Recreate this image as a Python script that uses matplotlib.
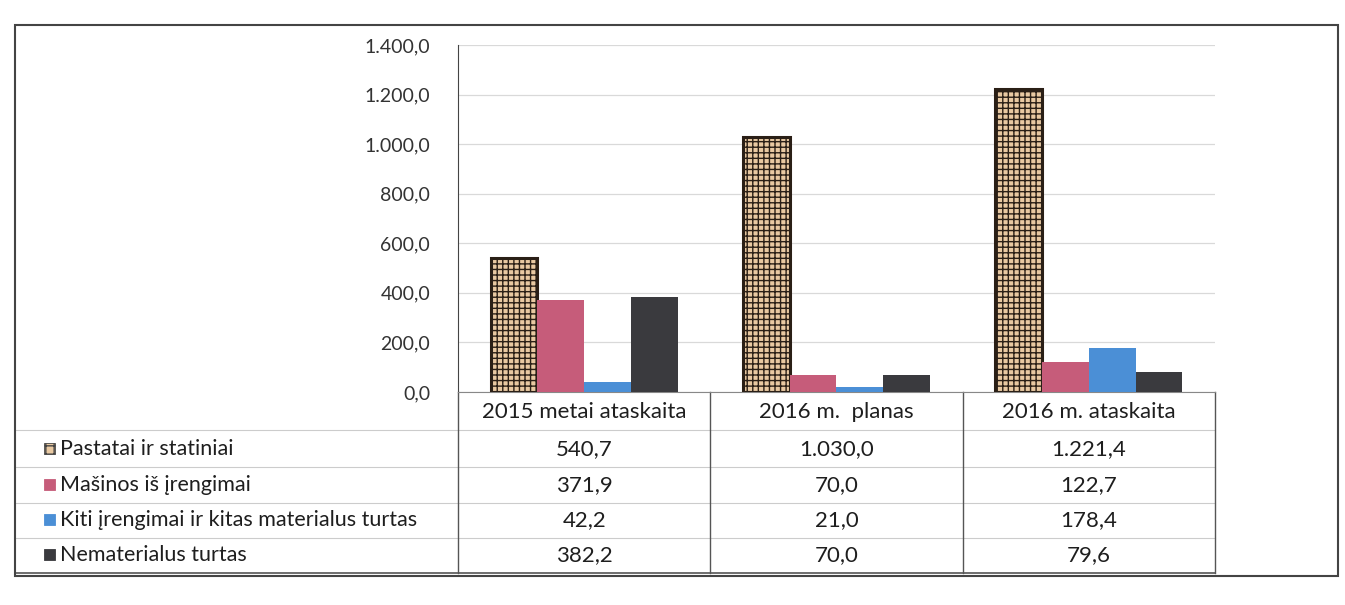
import numpy as np
import matplotlib
matplotlib.use("Agg")
import matplotlib.pyplot as plt
from matplotlib.patches import Rectangle

plt.rcParams['font.family'] = ['Lato', 'DejaVu Sans']

categories = ["2015 metai ataskaita", "2016 m.  planas", "2016 m. ataskaita"]
series_names = ["Pastatai ir statiniai", "Mašinos iš įrengimai",
                "Kiti įrengimai ir kitas materialus turtas", "Nematerialus turtas"]
pastatai = [540.7, 1030.0, 1221.4]
masinos = [371.9, 70.0, 122.7]
kiti = [42.2, 21.0, 178.4]
nematerialus = [382.2, 70.0, 79.6]
yticks = [0, 200, 400, 600, 800, 1000, 1200, 1400]

series = [pastatai, masinos, kiti, nematerialus]
colors = ["#e9c9a2", "#c65c7a", "#4b8fd6", "#3a3a3e"]


def lt_fmt(v):
    s = f"{v:,.1f}"
    return s.replace(",", " ").replace(".", ",").replace(" ", ".")


W, H = 1345, 605
fig = plt.figure(figsize=(W / 100, H / 100), dpi=100)
ax_left, ax_right, ax_top, ax_bot = 458, 1215, 45, 392
ax = fig.add_axes([ax_left / W, (H - ax_bot) / H,
                   (ax_right - ax_left) / W, (ax_bot - ax_top) / H])

x = np.arange(len(categories))
bw = 0.185
offsets = (np.arange(4) - 1.5) * bw
for i, vals in enumerate(series):
    if i == 0:
        ax.bar(x + offsets[i], vals, bw, color=colors[i], edgecolor="#2a1f16",
               hatch="+++", linewidth=2.2, zorder=3)
    else:
        ax.bar(x + offsets[i], vals, bw, color=colors[i], linewidth=0, zorder=3)

ax.set_xlim(-0.5, len(categories) - 0.5)
ax.set_ylim(0, 1400)
ax.set_yticks(yticks)
ax.set_yticklabels([lt_fmt(t) for t in yticks], fontsize=14, color="#333333")
ax.set_xticks([])
ax.tick_params(axis="y", length=0, pad=20)
ax.grid(axis="y", color="#d9d9d9", linewidth=0.9, zorder=0)
for s in ["top", "right"]:
    ax.spines[s].set_visible(False)
ax.spines["left"].set_color("#444444")
ax.spines["bottom"].set_color("#888888")


# data table below the plot
def ay(px):
    return (ax_bot - px) / (ax_bot - ax_top)


def axx(px):
    return (px - ax_left) / (ax_right - ax_left)


trans = ax.get_xaxis_transform()
row_y = [449, 485, 520, 555]
lines_y = [430, 467, 503, 538]
for cx, cat in zip(x, categories):
    ax.text(cx, ay(412), cat, transform=trans, ha="center", va="center",
            fontsize=16, color="#1e1e1e", clip_on=False)
    for r, vals in enumerate(series):
        ax.text(cx, ay(row_y[r]), lt_fmt(vals[cx]), transform=trans,
                ha="center", va="center", fontsize=16, color="#1e1e1e",
                clip_on=False)

for ly in lines_y:
    ax.plot([axx(15), 1.0], [ay(ly), ay(ly)], transform=ax.transAxes,
            color="#cccccc", linewidth=0.8, clip_on=False)
for b in np.arange(len(categories) + 1) - 0.5:
    ax.plot([b, b], [0, ay(573)], transform=trans, color="#555555",
            linewidth=1.0, clip_on=False)
ax.plot([axx(15), 1.0], [ay(573), ay(573)], transform=ax.transAxes,
        color="#555555", linewidth=1.2, clip_on=False)

for r, name in enumerate(series_names):
    ax.add_patch(Rectangle((axx(44), ay(row_y[r]) - 0.015), 11 / (ax_right - ax_left),
                           0.031, transform=ax.transAxes, clip_on=False,
                           facecolor=colors[r], edgecolor="#444444" if r == 0 else colors[r],
                           hatch="++" if r == 0 else None, linewidth=0.6))
    ax.text(axx(60), ay(row_y[r]), name, transform=ax.transAxes, ha="left",
            va="center", fontsize=15.5, color="#1e1e1e", clip_on=False)

# outer chart border
fig.patches.append(Rectangle((15 / W, (H - 576) / H), 1323 / W, 551 / H,
                             transform=fig.transFigure, fill=False,
                             edgecolor="#444444", linewidth=1.5))

fig.savefig("out.png", dpi=100)
